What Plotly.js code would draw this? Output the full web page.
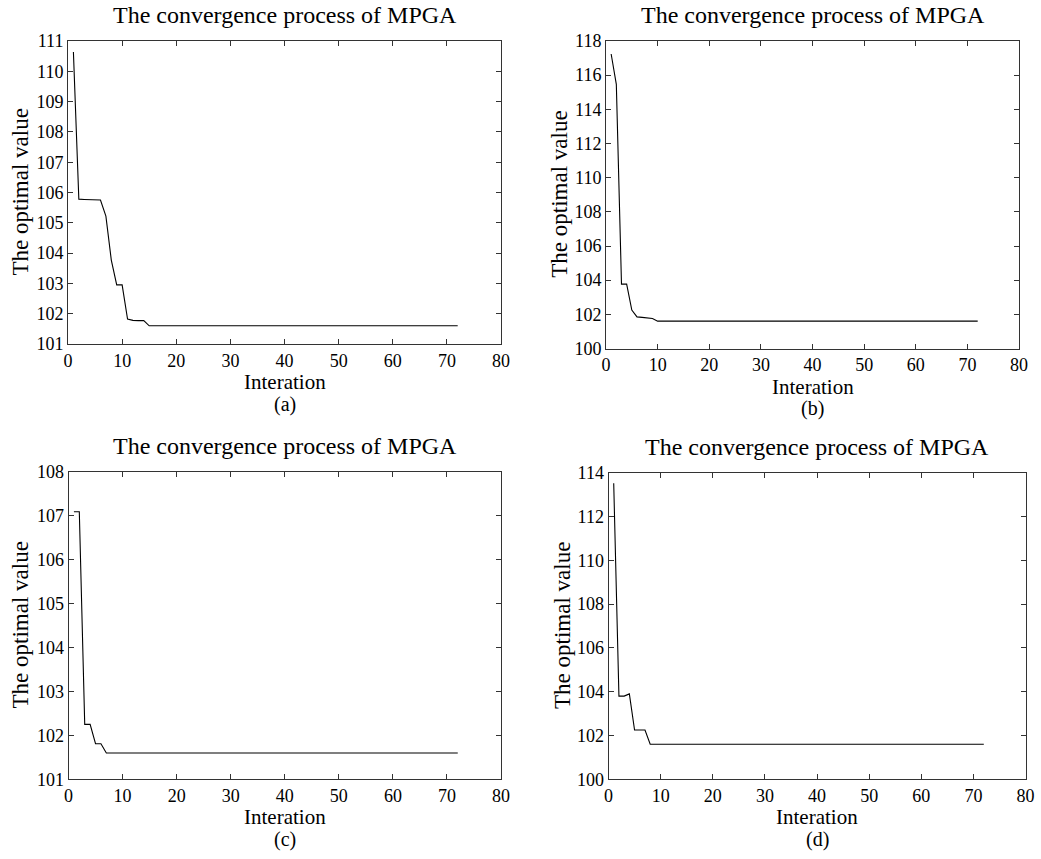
<!DOCTYPE html>
<html>
<head>
<meta charset="utf-8">
<script src="https://cdn.plot.ly/plotly-3.0.1.min.js"></script>
<style>html,body{margin:0;padding:0;background:#fff;}#chart{width:1041px;height:859px;}</style>
</head>
<body>
<div id="chart"></div>
<script>
// Iterations 1..72
const iterations = Array.from({length: 72}, (_, i) => i + 1);

// Best value per iteration (tail is flat at the optimum)
const tailA = new Array(57).fill(101.6);
const seriesA = [110.64, 105.78, 105.77, 105.76, 105.76, 105.75, 105.22, 103.77, 102.95, 102.95,
                 101.82, 101.78, 101.77, 101.77, 101.6].concat(tailA);
const tailB = new Array(63).fill(101.6);
const seriesB = [117.24, 115.46, 103.77, 103.77, 102.25, 101.85, 101.82, 101.80, 101.76].concat(tailB);
const tailC = new Array(66).fill(101.6);
const seriesC = [107.09, 107.09, 102.25, 102.25, 101.81, 101.81].concat(tailC);
const tailD = new Array(65).fill(101.6);
const seriesD = [113.52, 103.8, 103.8, 103.9, 102.25, 102.25, 102.25].concat(tailD);

const panelTitle = 'The convergence process of MPGA';
const xLabel = 'Interation';
const yLabel = 'The optimal value';
const panelTags = ['(a)', '(b)', '(c)', '(d)'];
const yRanges = [[101, 111], [100, 118], [101, 108], [100, 114]];
const yDtick = [1, 2, 1, 2];
const allSeries = [seriesA, seriesB, seriesC, seriesD];

const W = 1041, H = 859;
// plot-area pixel boxes [left, right, top, bottom]
const boxes = [[68, 501, 41, 344], [606, 1019, 41, 348.5], [68.5, 501, 471.7, 779.3], [608.5, 1025.5, 472.7, 779.3]];
const yTitleX = [20, 560, 20, 562];

const font = 'Liberation Serif';
const traces = [];
const layout = {
  width: W, height: H, margin: {l: 0, r: 0, t: 0, b: 0},
  paper_bgcolor: '#fff', plot_bgcolor: '#fff', showlegend: false,
  font: {family: font, color: '#000', size: 18},
  annotations: []
};

function ann(text, px, py, size, angle) {
  return {
    text: text, xref: 'paper', yref: 'paper', showarrow: false,
    x: px / W, y: 1 - py / H, xanchor: 'center', yanchor: 'middle',
    textangle: angle || 0, borderpad: 0,
    font: {family: font, size: size, color: '#000'}
  };
}

boxes.forEach((b, i) => {
  const n = i + 1;
  const sfx = n === 1 ? '' : String(n);
  traces.push({
    x: iterations, y: allSeries[i], type: 'scatter', mode: 'lines',
    line: {color: '#000', width: 1.1},
    xaxis: 'x' + sfx, yaxis: 'y' + sfx,
    hoverinfo: 'skip'
  });
  const axCommon = {
    showline: true, linecolor: '#333', linewidth: 1, mirror: 'allticks',
    ticks: 'inside', ticklen: 5, tickcolor: '#333', tickwidth: 1,
    showgrid: false, zeroline: false,
    tickfont: {family: font, size: 18, color: '#000'}
  };
  layout['xaxis' + sfx] = Object.assign({}, axCommon, {
    domain: [b[0] / W, b[1] / W], range: [0, 80], dtick: 10, tick0: 0,
    anchor: 'y' + sfx
  });
  layout['yaxis' + sfx] = Object.assign({}, axCommon, {
    domain: [1 - b[3] / H, 1 - b[2] / H], range: yRanges[i], dtick: yDtick[i], tick0: 0,
    anchor: 'x' + sfx
  });
  const cx = (b[0] + b[1]) / 2;
  layout.annotations.push(ann(panelTitle, cx, b[2] - 26, 24));
  layout.annotations.push(ann(xLabel, cx, b[3] + 38, 21));
  layout.annotations.push(ann(panelTags[i], cx, b[3] + 60, 20));
  layout.annotations.push(ann(yLabel, yTitleX[i], (b[2] + b[3]) / 2, 23, -90));
});

Plotly.newPlot('chart', traces, layout, {displayModeBar: false, staticPlot: true});
</script>
</body>
</html>
